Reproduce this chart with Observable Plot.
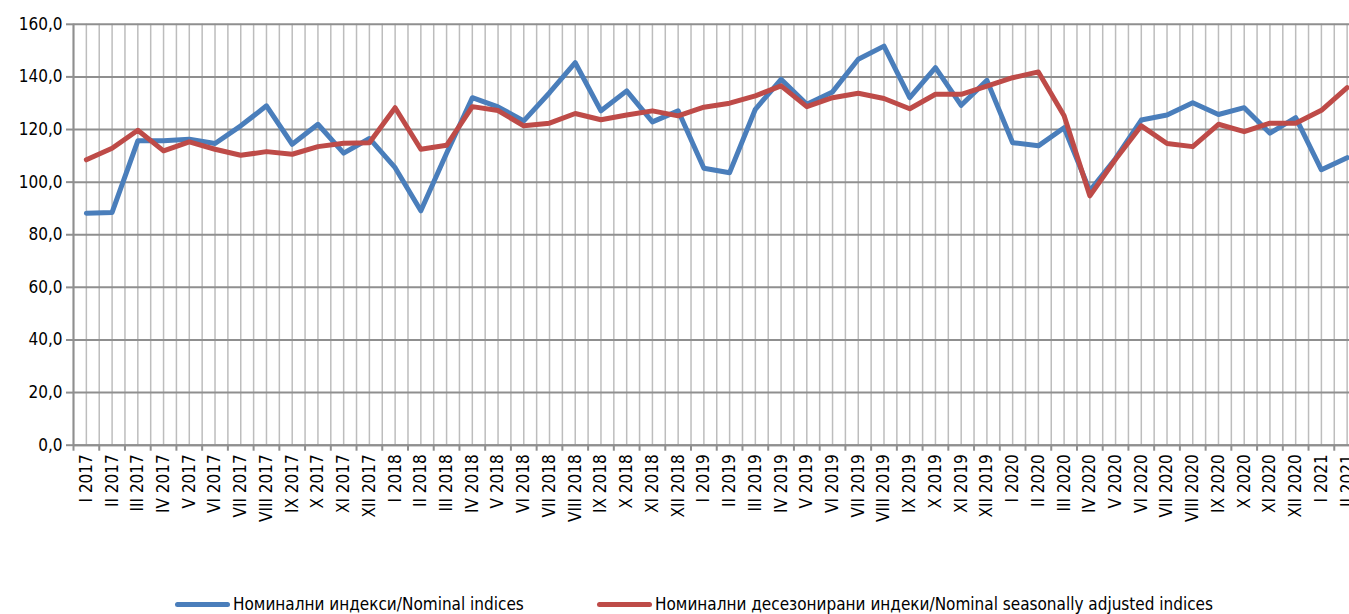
<!DOCTYPE html>
<html>
<head>
<meta charset="utf-8">
<script src="https://cdn.jsdelivr.net/npm/d3@7"></script>
<script src="https://cdn.jsdelivr.net/npm/@observablehq/plot@0.6"></script>
<style>
  html, body { margin: 0; padding: 0; background: #fff; overflow: hidden; }
  #wrap { position: relative; width: 1349px; height: 614px; font-family: "Liberation Sans Narrow", "Arial Narrow", "DejaVu Sans Condensed", sans-serif; }
  #legend { position: absolute; left: 0; top: 593px; width: 1349px; height: 22px; font-size: 17px; color: #000; }
  .item { position: absolute; top: 0; display: flex; align-items: center; height: 22px; white-space: nowrap; }
  .sw { width: 55px; height: 5px; border-radius: 3px; margin-right: 3px; }
</style>
</head>
<body>
<div id="wrap">
  <div id="chart"></div>
  <div id="legend"></div>
</div>
<script>
const categories = [
  "I 2017","II 2017","III 2017","IV 2017","V 2017","VI 2017","VII 2017","VIII 2017","IX 2017","X 2017","XI 2017","XII 2017",
  "I 2018","II 2018","III 2018","IV 2018","V 2018","VI 2018","VII 2018","VIII 2018","IX 2018","X 2018","XI 2018","XII 2018",
  "I 2019","II 2019","III 2019","IV 2019","V 2019","VI 2019","VII 2019","VIII 2019","IX 2019","X 2019","XI 2019","XII 2019",
  "I 2020","II 2020","III 2020","IV 2020","V 2020","VI 2020","VII 2020","VIII 2020","IX 2020","X 2020","XI 2020","XII 2020",
  "I 2021","II 2021"
];
const nominal = [
  88.2, 88.5, 115.7, 115.7, 116.3, 114.7, 121.4, 129.0, 114.4, 122.0, 111.0, 116.6,
  105.5, 89.1, 111.0, 132.1, 128.6, 123.3, 134.0, 145.4, 127.1, 134.7, 122.9, 127.1,
  105.3, 103.6, 127.7, 139.1, 129.6, 134.3, 146.7, 151.7, 132.1, 143.5, 129.2, 138.7,
  115.0, 113.8, 120.7, 96.7, 109.0, 123.6, 125.5, 130.2, 125.7, 128.3, 118.6, 124.5,
  104.7, 109.3
];
const adjusted = [
  108.5, 112.9, 119.7, 111.9, 115.3, 112.5, 110.2, 111.6, 110.6, 113.5, 114.8, 115.0,
  128.3, 112.5, 114.0, 128.7, 127.2, 121.4, 122.4, 126.1, 123.7, 125.5, 127.1, 125.2,
  128.5, 130.0, 132.8, 136.6, 128.7, 132.1, 133.8, 131.8, 127.9, 133.4, 133.4, 136.5,
  139.7, 141.9, 125.2, 94.8, 108.7, 121.4, 114.7, 113.5, 122.0, 119.2, 122.4, 122.4,
  127.3, 135.9
];
const seriesNames = ["Номинални индекси/Nominal indices", "Номинални десезонирани индеки/Nominal seasonally adjusted indices"];
const colors = ["#4A7EBB", "#BE4B48"];
const yTicks = [0, 20, 40, 60, 80, 100, 120, 140, 160];

const rows = [];
categories.forEach((c, i) => rows.push({i, cat: c, value: nominal[i], series: seriesNames[0]}));
categories.forEach((c, i) => rows.push({i, cat: c, value: adjusted[i], series: seriesNames[1]}));

const n = categories.length;
const step = 25.73;
const W = 1349, H = 580, ML = 73, MT = 23.8, MB = 135.3;
const fmt = v => v.toFixed(1).replace(".", ",");

const chart = Plot.plot({
  width: W,
  height: H,
  marginLeft: ML,
  marginTop: MT,
  marginBottom: MB,
  marginRight: 0,
  style: {fontFamily: "'Liberation Sans Narrow', 'Arial Narrow', 'DejaVu Sans Condensed', sans-serif", fontSize: "17px", color: "#000", background: "#fff"},
  x: {type: "linear", domain: [-0.5, n - 0.5], range: [ML, ML + n * step]},
  y: {domain: [0, 160], range: [H - MB, MT]},
  color: {domain: seriesNames, range: colors},
  marks: [
    Plot.gridX({ticks: d3.range(-0.5, n, 0.5), stroke: "#bdbdbd", strokeOpacity: 1, strokeWidth: 1.5}),
    Plot.gridY({ticks: yTicks, stroke: "#8f8f8f", strokeOpacity: 1, strokeWidth: 2}),
    Plot.ruleX([-0.5], {stroke: "#8f8f8f", strokeWidth: 2}),
    Plot.ruleY([0], {stroke: "#8f8f8f", strokeWidth: 2}),
    Plot.axisY({ticks: yTicks, tickFormat: fmt, tickSize: 7, tickPadding: 4, stroke: "#8f8f8f", strokeWidth: 2, label: null}),
    Plot.axisX({ticks: d3.range(-0.5, n, 1), tickFormat: () => "", tickSize: 6, stroke: "#8f8f8f", strokeWidth: 2, label: null}),
    Plot.axisX({ticks: d3.range(0, n), tickFormat: i => categories[i], tickSize: 0, tickPadding: 9, tickRotate: -90, label: null}),
    Plot.line(rows, {x: "i", y: "value", z: "series", stroke: "series", strokeWidth: 5, strokeLinejoin: "round", strokeLinecap: "round"})
  ]
});
document.getElementById("chart").appendChild(chart);

const legend = document.getElementById("legend");
const lefts = [175, 597];
seriesNames.forEach((s, k) => {
  const it = document.createElement("div");
  it.className = "item";
  it.style.left = lefts[k] + "px";
  const sw = document.createElement("div");
  sw.className = "sw";
  sw.style.background = colors[k];
  const t = document.createElement("span");
  t.textContent = s;
  it.appendChild(sw);
  it.appendChild(t);
  legend.appendChild(it);
});
</script>
</body>
</html>
